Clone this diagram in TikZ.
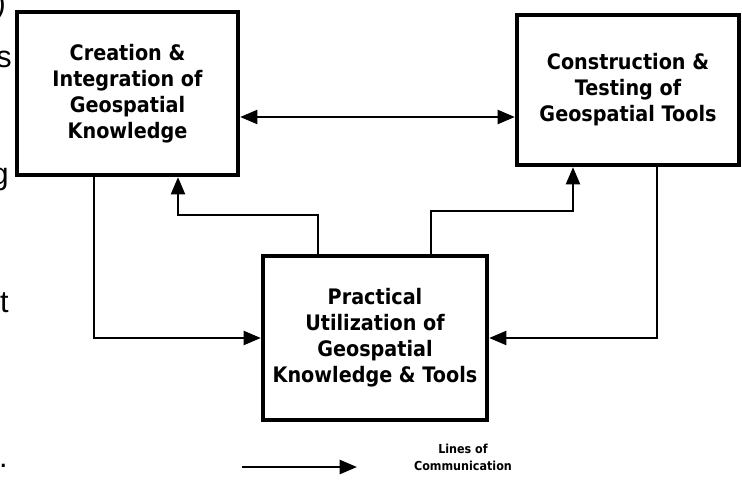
\documentclass[tikz,border=0pt]{standalone}
\usepackage{fontspec}
\setmainfont{DejaVu Sans}
\newfontfamily\boxfont{DejaVu Sans}[FakeStretch=0.9]
\newfontfamily\edgefont{Liberation Sans}
\usetikzlibrary{arrows.meta}
\begin{document}
\begin{tikzpicture}[x=0.75pt,y=-0.75pt,
  box/.style={draw, line width=3.2pt, align=center, inner sep=0pt,
    font=\boxfont\bfseries\fontsize{16}{19.5}\selectfont},
  conn/.style={line width=1.9pt, -{Triangle[length=13pt,width=10.5pt]}},
  both/.style={line width=1.9pt, {Triangle[length=13pt,width=10.5pt]}-{Triangle[length=13pt,width=10.5pt]}},
  legend/.style={align=center, inner sep=0pt, font=\boxfont\bfseries\fontsize{9.3}{12.8}\selectfont},
  edgechar/.style={inner sep=0pt, anchor=base east, font=\edgefont\fontsize{23}{27}\selectfont}
  ]
\useasboundingbox (0,0) rectangle (742,483);
\clip (0,0) rectangle (742,483);

% cropped page text at the left edge
\node[edgechar] (e1) at (6,13.5) {)};
\node[edgechar] (e2) at (12,67) {s};
\node[edgechar] (e3) at (9,184) {g};
\node[edgechar] (e4) at (9,312) {t};
\node[edgechar] (e5) at (8,467) {.};

% boxes
\node[box, minimum width=165.75pt, minimum height=122.25pt] (A) at (127.5,93.5)
  {Creation \&\\Integration of\\Geospatial\\Knowledge};
\node[box, minimum width=166.5pt, minimum height=112.5pt] (B) at (628,90)
  {Construction \&\\Testing of\\Geospatial Tools};
\node[box, minimum width=168pt, minimum height=123pt] (C) at (375,338)
  {Practical\\Utilization of\\Geospatial\\Knowledge \& Tools};

% connector corners
\coordinate (h1) at (0,117);
\coordinate (p1) at (94,338);
\coordinate (p2) at (318,215);
\coordinate (p3) at (178,215);
\coordinate (p4) at (431,211);
\coordinate (p5) at (573,211);
\coordinate (p6) at (657,338);

\draw[both] (A.east |- h1) -- (B.west |- h1);
\draw[conn] (A.south -| p1) |- (C.west);
\draw[conn] (C.north -| p2) -- (p2) -- (p3) -- (A.south -| p3);
\draw[conn] (C.north -| p4) -- (p4) -- (p5) -- (B.south -| p5);
\draw[conn] (B.south -| p6) |- (C.east);

% legend
\coordinate (l1) at (242,467);
\coordinate (l2) at (357,467);
\draw[conn] (l1) -- (l2);
\node[legend] (lg) at (463,457) {Lines of\\Communication};
\end{tikzpicture}
\end{document}
